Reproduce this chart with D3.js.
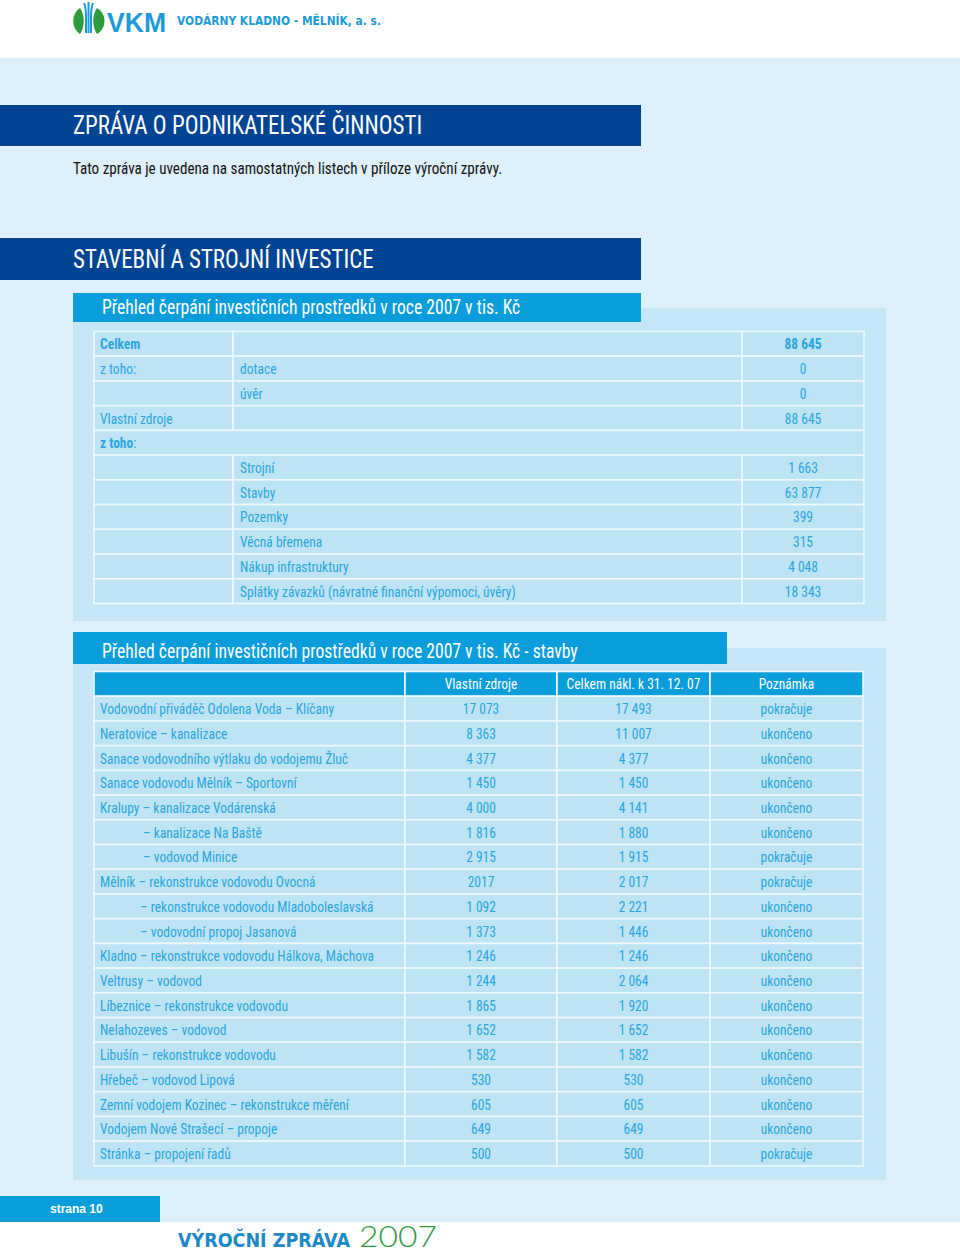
<!DOCTYPE html>
<html><head><meta charset="utf-8">
<script src="https://cdn.jsdelivr.net/npm/d3@7"></script>
<style>
html,body{margin:0;padding:0;background:#fff;}
svg{display:block;}
</style></head>
<body>
<script>
// ---------- DATA ----------
const t1Col1 = ["Celkem","z toho:","","Vlastní zdroje","z toho:","","","","","",""];
const t1Col2 = ["","dotace","úvěr","","","Strojní","Stavby","Pozemky","Věcná břemena","Nákup infrastruktury","Splátky závazků (návratné finanční výpomoci, úvěry)"];
const t1Values = ["88 645","0","0","88 645","","1 663","63 877","399","315","4 048","18 343"];

const t2Headers = ["","Vlastní zdroje","Celkem nákl. k 31. 12. 07","Poznámka"];
const t2Names = [
 "Vodovodní přiváděč Odolena Voda – Klíčany",
 "Neratovice – kanalizace",
 "Sanace vodovodního výtlaku do vodojemu Žluč",
 "Sanace vodovodu Mělník – Sportovní",
 "Kralupy – kanalizace Vodárenská",
 "– kanalizace Na Baště",
 "– vodovod Minice",
 "Mělník – rekonstrukce vodovodu Ovocná",
 "– rekonstrukce vodovodu Mladoboleslavská",
 "– vodovodní propoj Jasanová",
 "Kladno – rekonstrukce vodovodu Hálkova, Máchova",
 "Veltrusy – vodovod",
 "Líbeznice – rekonstrukce vodovodu",
 "Nelahozeves – vodovod",
 "Libušín – rekonstrukce vodovodu",
 "Hřebeč – vodovod Lipová",
 "Zemní vodojem Kozinec – rekonstrukce měření",
 "Vodojem Nové Strašecí – propoje",
 "Stránka – propojení řadů"];
const t2Indent = [0,0,0,0,0,2,2,0,1,1,0,0,0,0,0,0,0,0,0];
const t2Own = ["17 073","8 363","4 377","1 450","4 000","1 816","2 915","2017","1 092","1 373","1 246","1 244","1 865","1 652","1 582","530","605","649","500"];
const t2Total = ["17 493","11 007","4 377","1 450","4 141","1 880","1 915","2 017","2 221","1 446","1 246","2 064","1 920","1 652","1 582","530","605","649","500"];
const t2Note = ["pokračuje","ukončeno","ukončeno","ukončeno","ukončeno","ukončeno","pokračuje","pokračuje","ukončeno","ukončeno","ukončeno","ukončeno","ukončeno","ukončeno","ukončeno","ukončeno","ukončeno","ukončeno","pokračuje"];

// ---------- STYLE ----------
const W = 960, H = 1252;
const C = {
  page:"#ddf0fb", panel:"#c4e6f7", cell:"#bde3f5", line:"#eef8fd",
  bright:"#0a9ddc", dark:"#004494", text:"#2aa6de", green:"#2f9b3f", logoBlue:"#1c9ad8"
};
const NARROW = "'Liberation Sans Narrow','Arial Narrow','Roboto Condensed',sans-serif";
const FS = 15, SX = 0.9;

const svg = d3.select("body").append("svg").attr("width",W).attr("height",H);

// condensed text helper (horizontal squeeze)
function ctext(g, x, y, anchor){
  return g.append("text").attr("transform",`translate(${x},${y}) scale(${SX},1)`)
    .attr("text-anchor",anchor||"start").attr("font-family",NARROW).attr("font-size",FS);
}

// backgrounds
svg.append("rect").attr("x",0).attr("y",0).attr("width",W).attr("height",H).attr("fill","#fff");
svg.append("rect").attr("x",0).attr("y",58).attr("width",W).attr("height",1164).attr("fill",C.page);

// ---------- LOGO ----------
const logo = svg.append("g");
logo.append("path").attr("d","M80,8 C71,14 71,28 80,34 C85,27 85,15 80,8 Z").attr("fill",C.green);
logo.append("path").attr("d","M97,8 C107,14 107,28 97,34 C92,27 92,15 97,8 Z").attr("fill",C.green);
logo.append("path").attr("d","M84,3 C86,8 86,12 86,17 L86,33").attr("stroke",C.logoBlue).attr("stroke-width",2).attr("fill","none");
logo.append("path").attr("d","M88.5,2 L88.5,33").attr("stroke",C.logoBlue).attr("stroke-width",2).attr("fill","none");
logo.append("path").attr("d","M93,3 C91,8 91,12 91,17 L91,33").attr("stroke",C.logoBlue).attr("stroke-width",2).attr("fill","none");
logo.append("text").attr("x",107).attr("y",32).attr("font-family","'Liberation Sans',Arial,sans-serif")
  .attr("font-weight","bold").attr("font-size",27).attr("fill",C.logoBlue)
  .attr("textLength",59).attr("lengthAdjust","spacingAndGlyphs").text("VKM");
logo.append("text").attr("x",177).attr("y",25).attr("font-family","'DejaVu Sans',sans-serif")
  .attr("font-weight","bold").attr("font-size",13).attr("fill",C.logoBlue)
  .attr("textLength",204).attr("lengthAdjust","spacingAndGlyphs").text("VODÁRNY KLADNO - MĚLNÍK, a. s.");

// ---------- TITLES ----------
function darkBar(y, h, label){
  svg.append("rect").attr("x",0).attr("y",y).attr("width",641).attr("height",h).attr("fill",C.dark);
  svg.append("text").attr("transform",`translate(73,${y+h/2+8.5}) scale(0.92,1)`).attr("font-family",NARROW).attr("font-size",25)
    .attr("fill","#fff").text(label);
}
darkBar(105, 41, "ZPRÁVA O PODNIKATELSKÉ ČINNOSTI");
svg.append("text").attr("transform","translate(73,173.5) scale(0.9,1)").attr("font-family",NARROW).attr("font-size",16.8)
  .attr("fill","#111").text("Tato zpráva je uvedena na samostatných listech v příloze výroční zprávy.");
darkBar(238, 42, "STAVEBNÍ A STROJNÍ INVESTICE");

// ---------- PANEL 1 ----------
svg.append("rect").attr("x",73).attr("y",308).attr("width",813).attr("height",313).attr("fill",C.panel);
svg.append("rect").attr("x",73).attr("y",293).attr("width",568).attr("height",29).attr("fill",C.bright);
svg.append("text").attr("transform","translate(102,314) scale(0.9,1)").attr("font-family",NARROW).attr("font-size",19.6)
  .attr("fill","#fff").text("Přehled čerpání investičních prostředků v roce 2007 v tis. Kč");

const y1 = d3.scaleBand().domain(d3.range(t1Col1.length)).range([331.5, 603.5]);
const x1 = [94, 233, 742, 864];
const g1 = svg.append("g");
t1Col1.forEach((lab, i) => {
  const y = y1(i), h = y1.bandwidth();
  if (i === 4) {
    g1.append("rect").attr("x",x1[0]).attr("y",y).attr("width",x1[3]-x1[0]).attr("height",h)
      .attr("fill",C.cell).attr("stroke",C.line).attr("stroke-width",1.6);
  } else {
    for (let c=0;c<3;c++) g1.append("rect").attr("x",x1[c]).attr("y",y).attr("width",x1[c+1]-x1[c]).attr("height",h)
      .attr("fill",C.cell).attr("stroke",C.line).attr("stroke-width",1.6);
  }
  const ty = y + h/2 + 5.5;
  const t = ctext(g1, 100, ty).attr("fill",C.text);
  if (i === 0) t.attr("font-weight","bold").text(lab);
  else if (i === 4) { t.append("tspan").attr("font-weight","bold").text("z toho"); t.append("tspan").text(":"); }
  else t.text(lab);
  ctext(g1, 240, ty).attr("fill",C.text).text(t1Col2[i]);
  ctext(g1, 803, ty, "middle").attr("fill",C.text).attr("font-weight", i===0?"bold":"normal").text(t1Values[i]);
});

// ---------- PANEL 2 ----------
svg.append("rect").attr("x",73).attr("y",648).attr("width",813).attr("height",532).attr("fill",C.panel);
svg.append("rect").attr("x",73).attr("y",632).attr("width",654).attr("height",32).attr("fill",C.bright);
svg.append("text").attr("transform","translate(102,657.5) scale(0.9,1)").attr("font-family",NARROW).attr("font-size",19.6)
  .attr("fill","#fff").text("Přehled čerpání investičních prostředků v roce 2007 v tis. Kč - stavby");

const y2 = d3.scaleBand().domain(d3.range(t2Names.length+1)).range([671.5, 671.5 + 24.72*(t2Names.length+1)]);
const x2 = [94, 405, 557, 710, 863];
const g2 = svg.append("g");
// header row
t2Headers.forEach((h, c) => {
  g2.append("rect").attr("x",x2[c]).attr("y",y2(0)).attr("width",x2[c+1]-x2[c]).attr("height",y2.bandwidth())
    .attr("fill",C.bright).attr("stroke",C.line).attr("stroke-width",1.6);
  ctext(g2, (x2[c]+x2[c+1])/2, y2(0)+y2.bandwidth()/2+5.5, "middle").attr("fill","#fff").text(h);
});
t2Names.forEach((name, i) => {
  const y = y2(i+1), h = y2.bandwidth(), ty = y + h/2 + 5.5;
  const cols = [name, t2Own[i], t2Total[i], t2Note[i]];
  cols.forEach((v, c) => {
    g2.append("rect").attr("x",x2[c]).attr("y",y).attr("width",x2[c+1]-x2[c]).attr("height",h)
      .attr("fill",C.cell).attr("stroke",C.line).attr("stroke-width",1.6);
    if (c === 0) ctext(g2, 100 + (t2Indent[i]===2 ? 43 : t2Indent[i]===1 ? 40 : 0), ty).attr("fill",C.text).text(v);
    else ctext(g2, (x2[c]+x2[c+1])/2, ty, "middle").attr("fill",C.text).text(v);
  });
});

// ---------- FOOTER ----------
svg.append("rect").attr("x",0).attr("y",1196).attr("width",160).attr("height",26).attr("fill",C.bright);
svg.append("text").attr("x",50).attr("y",1213).attr("font-family","'Liberation Sans',Arial,sans-serif").attr("font-weight","bold")
  .attr("font-size",12).attr("fill","#fff").text("strana 10");
svg.append("text").attr("x",178).attr("y",1247).attr("font-family","'DejaVu Sans',sans-serif").attr("font-weight","bold")
  .attr("font-size",19).attr("fill","#1b88ca").attr("textLength",172).attr("lengthAdjust","spacingAndGlyphs").text("VÝROČNÍ ZPRÁVA");
svg.append("text").attr("x",359).attr("y",1247).attr("font-family","Lato,'Open Sans',sans-serif").attr("font-weight",300)
  .attr("font-size",29).attr("fill",C.green).attr("textLength",78).attr("lengthAdjust","spacingAndGlyphs").text("2007");
</script>
</body></html>
